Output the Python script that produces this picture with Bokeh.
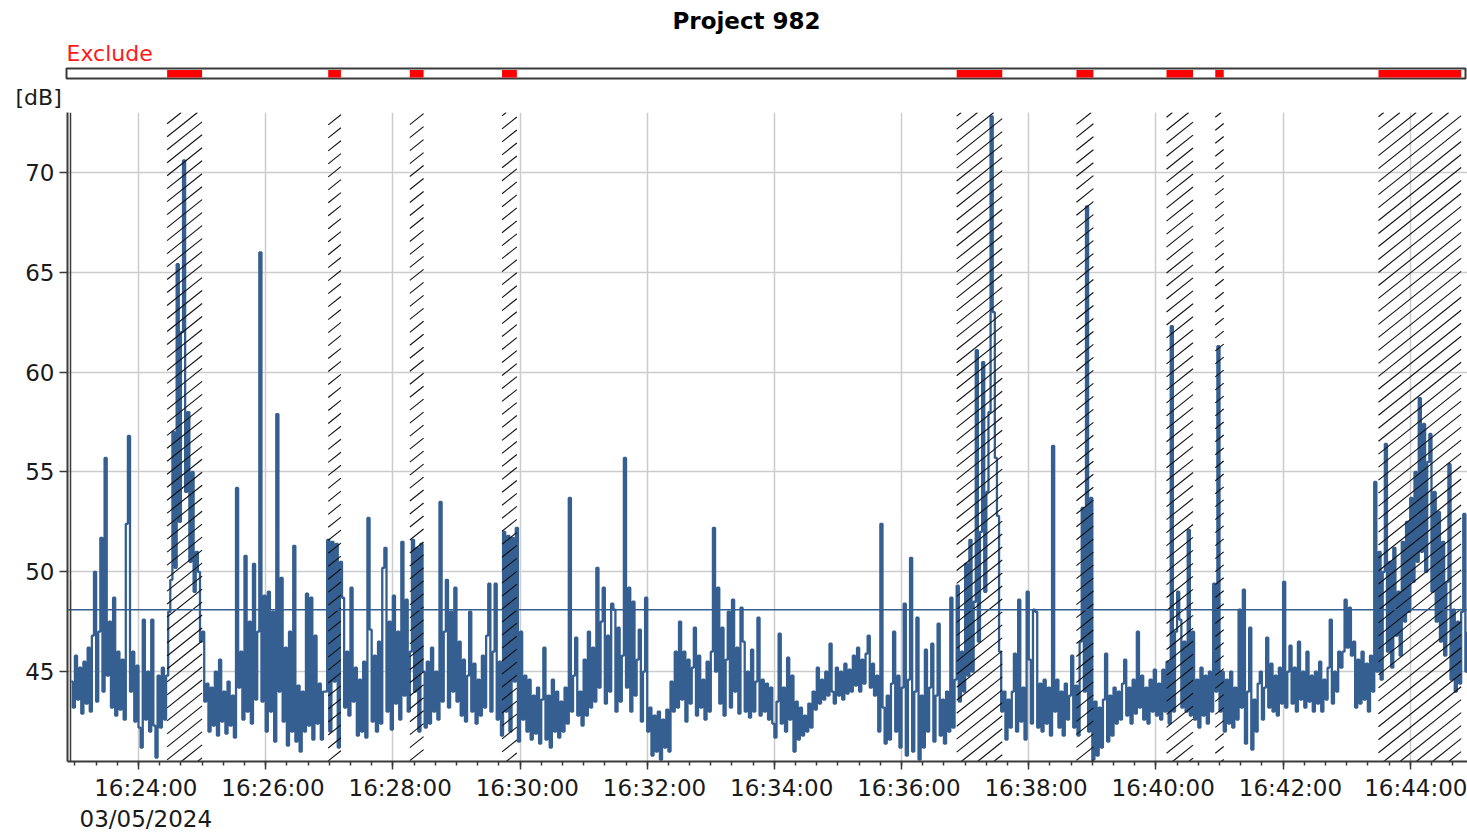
from datetime import datetime
import numpy as np
from bokeh.plotting import figure
from bokeh.layouts import column
from bokeh.models import (Range1d, FixedTicker, DatetimeTickFormatter, Span, ColumnDataSource)
from bokeh.core.properties import value
from bokeh.embed import file_html
from bokeh.resources import INLINE

# ---------------- data ----------------
TITLE = "Project 982"
DATE = "2024-05-03"
FIRST_SAMPLE = "16:22:56"
STEP_S = 2
UNIT = "[dB]"
EXCLUDE_LABEL = "Exclude"

# sound level [dB], one value every 2 s, in 2-minute blocks
blk_162256 = [44.5, 43.2, 45.8, 43.6, 45.2, 42.9, 45.5, 43.4, 46.2, 43.0,
              46.8, 50.0, 43.5, 47.0, 51.7, 44.0, 55.7, 44.8, 47.5, 43.2,
              48.7, 42.8, 46.0, 43.1, 45.6, 42.6, 52.4, 56.8, 44.0, 46.0,
              42.5, 45.3, 42.2, 41.2, 47.6, 42.6, 45.0, 42.0, 47.6, 42.3,
              40.7, 44.8, 42.2, 45.2, 42.6, 44.8, 48.0, 49.6, 57.0, 50.2,
              65.4, 52.5, 62.0, 70.6, 54.0, 58.0, 50.5, 55.0, 49.0, 51.0]
blk_162456 = [50.0, 46.5, 47.0, 43.5, 44.4, 42.0, 44.2, 42.3, 45.0, 41.8,
              45.6, 42.5, 44.0, 41.9, 44.5, 42.3, 43.8, 41.7, 54.2, 44.2,
              46.0, 42.6, 50.8, 43.0, 47.5, 42.4, 50.4, 43.6, 47.0, 66.0,
              43.5, 48.8, 42.0, 49.0, 43.0, 48.0, 41.5, 57.9, 44.0, 49.7,
              42.5, 46.2, 41.3, 47.0, 42.0, 51.3, 41.5, 44.3, 41.0, 44.0,
              42.0, 48.9, 42.3, 48.7, 41.6, 46.8, 42.4, 44.4, 41.6, 44.0]
blk_162656 = [44.0, 51.6, 42.0, 51.5, 44.5, 51.4, 41.2, 50.5, 48.7, 43.2,
              46.0, 42.8, 49.2, 43.5, 45.2, 41.8, 44.6, 42.0, 45.5, 41.7,
              52.7, 47.1, 42.5, 45.8, 42.0, 46.5, 42.4, 50.2, 51.2, 43.0,
              47.5, 42.1, 48.8, 43.4, 47.0, 42.6, 51.5, 43.8, 48.6, 43.0,
              46.0, 51.6, 44.0, 51.2, 42.0, 51.4, 45.0, 42.2, 45.5, 42.4,
              46.2, 43.0, 45.0, 42.6, 53.5, 43.5, 47.0, 49.6, 43.2, 48.0]
blk_162856 = [44.0, 49.2, 43.5, 46.5, 42.8, 45.6, 42.5, 44.8, 48.0, 43.0,
              45.4, 42.4, 44.6, 42.8, 45.8, 43.2, 46.8, 49.4, 43.0, 46.0,
              49.4, 42.6, 45.5, 41.8, 52.0, 43.0, 51.8, 42.0, 51.7, 44.5,
              52.2, 41.5, 47.0, 42.6, 44.8, 42.0, 44.6, 41.6, 43.8, 41.9,
              44.2, 41.4, 43.6, 46.2, 41.6, 43.8, 41.2, 44.6, 42.0, 44.0,
              41.7, 43.5, 42.0, 44.2, 42.4, 53.7, 43.0, 44.8, 46.7, 42.8]
blk_163056 = [44.0, 42.3, 45.6, 42.8, 47.0, 43.2, 46.2, 43.5, 50.2, 44.2,
              47.5, 49.2, 43.4, 46.8, 44.0, 48.4, 48.1, 43.0, 47.2, 43.5,
              45.8, 55.7, 44.2, 49.2, 43.0, 48.5, 43.8, 45.6, 47.1, 42.5,
              45.0, 48.7, 42.0, 43.2, 40.8, 42.8, 41.0, 43.0, 40.6, 42.6,
              41.2, 43.1, 41.0, 44.5, 43.0, 46.0, 43.2, 47.5, 43.6, 46.0,
              42.5, 45.6, 43.4, 45.2, 47.2, 42.8, 45.8, 43.2, 44.6, 42.6]
blk_163256 = [45.5, 43.0, 46.0, 52.2, 45.0, 49.2, 43.4, 47.2, 42.8, 45.6,
              48.0, 43.2, 48.6, 44.0, 46.2, 42.9, 48.2, 46.5, 43.0, 45.0,
              42.7, 46.1, 43.0, 44.5, 47.7, 42.8, 44.6, 43.0, 44.4, 42.6,
              44.2, 42.4, 41.7, 43.5, 46.9, 42.4, 44.2, 42.0, 45.7, 42.6,
              44.8, 41.0, 43.5, 41.6, 43.2, 41.8, 42.8, 42.0, 43.4, 42.2,
              44.0, 43.1, 45.2, 43.4, 44.6, 43.6, 45.0, 43.8, 46.4, 44.0]
blk_163456 = [43.4, 45.2, 43.8, 45.0, 43.6, 45.4, 43.9, 45.1, 44.0, 45.8,
              44.3, 46.2, 44.0, 45.6, 44.4, 45.9, 46.8, 44.2, 45.4, 43.8,
              44.8, 42.0, 52.4, 43.2, 41.4, 43.8, 41.6, 44.4, 47.0, 42.0,
              44.8, 41.2, 44.2, 48.4, 40.8, 44.6, 50.7, 41.0, 44.0, 47.7,
              40.6, 43.8, 41.2, 46.1, 42.0, 44.2, 46.4, 41.5, 43.8, 47.4,
              41.8, 43.6, 41.4, 44.0, 42.0, 48.7, 42.2, 44.6, 49.3, 43.5]
blk_163656 = [46.0, 44.0, 50.4, 44.8, 51.6, 45.0, 48.5, 61.1, 46.5, 52.0,
              60.5, 49.0, 54.0, 58.0, 72.8, 63.0, 55.7, 52.8, 46.0, 43.0,
              44.0, 41.6, 43.6, 42.2, 44.0, 45.9, 42.0, 48.6, 42.5, 44.2,
              41.6, 49.0, 45.6, 42.4, 48.1, 48.0, 42.2, 44.4, 42.0, 44.6,
              42.4, 44.2, 41.8, 56.3, 43.0, 44.6, 42.2, 44.0, 41.8, 44.4,
              42.6, 43.8, 45.8, 42.2, 44.3, 41.8, 46.5, 53.2, 44.0, 68.3]
blk_163856 = [42.0, 53.7, 40.6, 43.5, 40.8, 43.2, 41.2, 43.6, 45.9, 41.5,
              43.8, 41.8, 44.2, 42.4, 44.0, 42.6, 44.4, 45.6, 42.8, 44.2,
              42.4, 44.6, 42.9, 47.0, 43.2, 44.8, 42.6, 44.2, 42.4, 44.6,
              43.0, 45.1, 42.8, 44.4, 42.6, 45.1, 43.0, 45.5, 42.4, 62.3,
              43.0, 47.0, 49.0, 47.6, 43.2, 46.5, 43.0, 52.1, 42.8, 47.0,
              42.6, 44.6, 42.2, 45.2, 42.8, 44.8, 42.4, 45.0, 43.0, 49.4]
blk_164056 = [44.0, 61.3, 43.0, 45.0, 42.0, 44.6, 42.4, 45.0, 42.2, 44.2,
              42.6, 48.1, 43.2, 49.1, 41.4, 44.0, 47.2, 41.1, 43.6, 42.0,
              44.4, 45.0, 42.6, 44.2, 46.7, 43.2, 45.4, 43.0, 44.8, 42.8,
              45.2, 43.4, 49.5, 43.2, 45.0, 46.3, 43.4, 45.2, 43.0, 46.5,
              43.6, 45.0, 43.2, 46.0, 43.5, 44.8, 43.0, 45.0, 43.4, 45.5,
              43.0, 44.6, 43.6, 45.2, 47.6, 43.4, 45.0, 44.0, 46.0, 45.2]
blk_164256 = [46.0, 48.6, 46.2, 48.2, 45.8, 46.5, 43.2, 45.6, 43.4, 46.0,
              43.6, 45.4, 43.0, 45.8, 44.0, 54.5, 45.0, 51.0, 44.6, 50.0,
              56.4, 46.0, 50.5, 45.2, 51.2, 46.8, 49.0, 45.8, 51.5, 47.5,
              52.5, 48.0, 53.7, 49.5, 55.0, 50.5, 58.7, 51.0, 57.4, 50.0,
              55.5, 56.9, 49.0, 54.0, 47.5, 53.0, 46.5, 51.5, 45.8, 49.5,
              55.4, 44.6, 48.1, 44.0, 47.5, 44.4, 48.0, 52.9, 45.0, 47.0]

LAEQ = 48.1                       # overall level line
CURSOR_DB = [43.2, 49.6]          # orange marker at the first sample

exclude_start = ["16:24:27", "16:26:59", "16:28:16", "16:29:43", "16:36:52",
                 "16:38:45", "16:40:10", "16:40:56", "16:43:30"]
exclude_end = ["16:25:00", "16:27:11", "16:28:29", "16:29:57", "16:37:35",
               "16:39:01", "16:40:35", "16:41:04", "16:44:48"]

x_tick_labels = ["16:24:00", "16:26:00", "16:28:00", "16:30:00", "16:32:00", "16:34:00",
                 "16:36:00", "16:38:00", "16:40:00", "16:42:00", "16:44:00"]
y_ticks = [45, 50, 55, 60, 65, 70]
X_VIEW = ["16:22:53", "16:44:54"]
Y_VIEW = [40.5, 73.0]

# ---------------- helpers / style ----------------
BLUE = "#355f90"
AX = "#3a3a3a"
FONT = "DejaVu Sans"


def ms(hms):
    dt = datetime.strptime(f"{DATE} {hms}", "%Y-%m-%d %H:%M:%S")
    return (dt - datetime(1970, 1, 1)).total_seconds() * 1000.0


blocks = [blk_162256, blk_162456, blk_162656, blk_162856, blk_163056, blk_163256,
          blk_163456, blk_163656, blk_163856, blk_164056, blk_164256]
levels = np.concatenate([np.asarray(b, dtype=float) for b in blocks])
t0 = ms(FIRST_SAMPLE)
times = t0 + np.arange(len(levels)) * STEP_S * 1000.0
src = ColumnDataSource(dict(t=times, db=levels))

W = 1467
HEAD_H = 110
MAIN_H = 724
LEFT = 67
TOP = 2
BOTTOM = 72
FRAME_W = W - LEFT
FRAME_H = MAIN_H - TOP - BOTTOM

x0, x1 = ms(X_VIEW[0]), ms(X_VIEW[1])
px_per_ms = FRAME_W / (x1 - x0)
px_per_db = FRAME_H / (Y_VIEW[1] - Y_VIEW[0])
h_x0 = x0 - LEFT / px_per_ms


def hx(px):
    return h_x0 + px / px_per_ms


ex_s = [ms(s) for s in exclude_start]
ex_e = [ms(e) for e in exclude_end]

# ---------------- header (title, exclude bar, unit) ----------------
h = figure(width=W, height=HEAD_H, x_range=Range1d(h_x0, x1), y_range=Range1d(0, HEAD_H),
           output_backend="svg", toolbar_location=None, x_axis_location=None,
           y_axis_location=None, min_border=0)
if "frame_align" in h.properties():
    h.frame_align = False
h.outline_line_color = None
h.grid.visible = False

h.text(x=[hx(746)], y=[90], text=[TITLE], text_font=value(FONT), text_font_style="bold",
       text_font_size="23px", text_align="center", text_baseline="middle", text_color="#000000")
h.text(x=[hx(66)], y=[57], text=[EXCLUDE_LABEL], text_font=value(FONT), text_font_size="22px",
       text_align="left", text_baseline="middle", text_color="#ff1a1a")
h.text(x=[hx(15)], y=[13], text=[UNIT], text_font=value(FONT), text_font_size="22px",
       text_align="left", text_baseline="middle", text_color="#1a1a1a")
h.quad(left=[hx(66)], right=[hx(1465)], bottom=[32], top=[42], fill_color="white",
       line_color=AX, line_width=2)
h.quad(left=ex_s, right=ex_e, bottom=[33] * len(ex_s), top=[40.5] * len(ex_s),
       fill_color="#ff0000", line_color=None)

# ---------------- main plot ----------------
p = figure(width=W, height=MAIN_H, x_axis_type="datetime",
           x_range=Range1d(x0, x1), y_range=Range1d(*Y_VIEW),
           output_backend="svg", toolbar_location=None,
           min_border_left=LEFT, min_border_right=0, min_border_top=TOP,
           min_border_bottom=BOTTOM)
if "frame_align" in p.properties():
    p.frame_align = False
p.outline_line_color = None

major = [ms(s) for s in x_tick_labels]
minor = list(np.arange(ms("16:22:40"), ms("16:45:00"), 20000.0))
p.xaxis.ticker = FixedTicker(ticks=major, minor_ticks=minor)
pad = "\u00a0\u00a0"
fmt = pad + "%H:%M:%S"
p.xaxis.formatter = DatetimeTickFormatter(seconds=fmt, minsec=fmt, minutes=fmt, hourmin=fmt,
                                          hours=fmt, context=pad + "%d/%m/%Y",
                                          context_which="start", context_location="below")
p.yaxis.ticker = FixedTicker(ticks=y_ticks)

for ax in (p.xaxis[0], p.yaxis[0]):
    ax.axis_line_color = AX
    ax.axis_line_width = 2
    ax.major_tick_line_color = AX
    ax.major_tick_line_width = 1.5
    ax.major_tick_in = 0
    ax.major_tick_out = 8
    ax.minor_tick_line_color = AX
    ax.minor_tick_line_width = 1.5
    ax.minor_tick_in = 0
    ax.major_label_text_font = FONT
    ax.major_label_text_font_size = "23px"
    ax.major_label_text_color = "#1a1a1a"
p.xaxis.minor_tick_out = 4
p.xaxis.major_label_standoff = 5
p.yaxis.minor_tick_out = 0
p.yaxis.major_label_standoff = 5

p.xgrid.grid_line_color = "#cccccc"
p.ygrid.grid_line_color = "#cccccc"
p.xgrid.grid_line_width = 1.5
p.ygrid.grid_line_width = 1.5

p.step("t", "db", source=src, mode="after", line_color=BLUE, line_width=2.3)
p.segment(x0=[t0], y0=[CURSOR_DB[0]], x1=[t0], y1=[CURSOR_DB[1]], line_color="#f0b27a",
          line_width=1.5)

p.add_layout(Span(location=LAEQ, dimension="width", line_color=BLUE, line_width=1.5))
p.add_layout(Span(location=x0 + 3 / px_per_ms, dimension="height", line_color=AX,
                  line_width=1.5))

# hatching of excluded periods: diagonal lines computed in screen space, clipped to each band
SLOPE = 0.8      # rise per pixel
GAP_V = 13.0     # vertical distance between hatch lines, px
hx0, hy0, hx1, hy1 = [], [], [], []
for s, e in zip(ex_s, ex_e):
    xa = (s - x0) * px_per_ms
    xb = min((e - x0) * px_per_ms, FRAME_W)
    k_lo = int(np.floor(-SLOPE * xb / GAP_V)) - 1
    k_hi = int(np.ceil((FRAME_H - SLOPE * xa) / GAP_V)) + 1
    for k in range(k_lo, k_hi + 1):
        c = k * GAP_V
        xs = max(xa, -c / SLOPE)
        xe = min(xb, (FRAME_H - c) / SLOPE)
        if xe - xs > 0.3:
            hx0.append(x0 + xs / px_per_ms)
            hy0.append(Y_VIEW[0] + (SLOPE * xs + c) / px_per_db)
            hx1.append(x0 + xe / px_per_ms)
            hy1.append(Y_VIEW[0] + (SLOPE * xe + c) / px_per_db)
p.segment(x0=hx0, y0=hy0, x1=hx1, y1=hy1, line_color="#111111", line_width=1.1)

layout = column(h, p, spacing=0)
open("out.html", "w").write(file_html(layout, INLINE))
